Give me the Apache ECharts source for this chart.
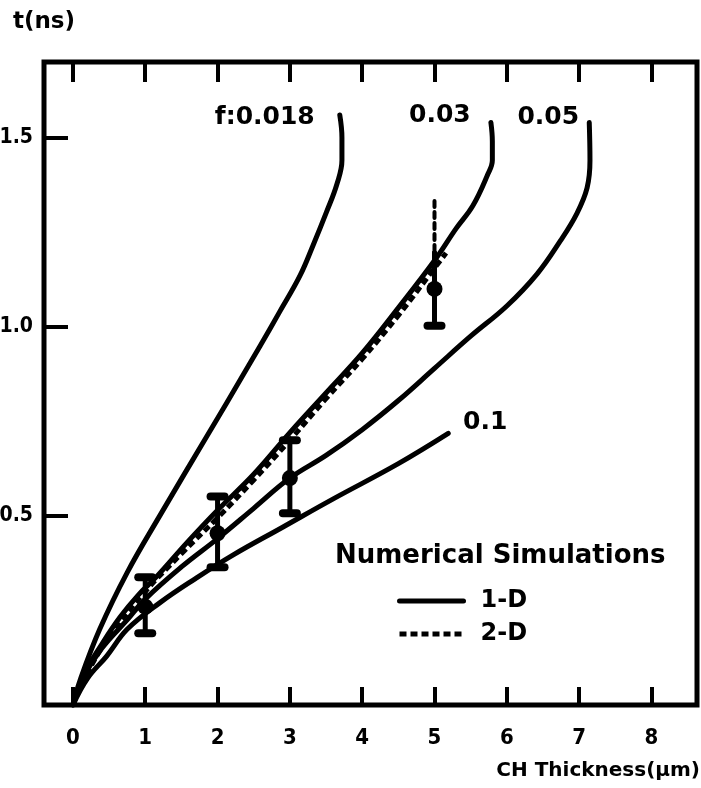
<!DOCTYPE html>
<html>
<head>
<meta charset="utf-8">
<script src="https://cdn.jsdelivr.net/npm/echarts@6/dist/echarts.min.js"></script>
<style>
  html, body { margin: 0; padding: 0; background: #fff; }
  #main { width: 701px; height: 788px; }
</style>
</head>
<body>
<div id="main"></div>
<script>
// curves: [thickness um, t ns]
var curve018 = [[0,0],[0.1,0.066],[0.37,0.2],[0.75,0.35],[1.2,0.5],[1.85,0.71],[2.13,0.80],[2.59,0.95],[2.86,1.04],[3.14,1.135],[3.32,1.215],[3.51,1.305],[3.65,1.377],[3.72,1.44],[3.72,1.5],[3.69,1.56]];
var curve03 = [[0,0],[0.15,0.08],[0.41,0.164],[0.65,0.232],[0.9,0.29],[1.16,0.34],[1.58,0.43],[2,0.515],[2.5,0.61],[3,0.72],[3.5,0.825],[4,0.93],[4.5,1.05],[5,1.175],[5.3,1.26],[5.53,1.32],[5.73,1.40],[5.8,1.44],[5.8,1.49],[5.78,1.54]];
var curve05 = [[0,0],[0.15,0.075],[0.4,0.15],[0.75,0.225],[1,0.28],[1.5,0.365],[2,0.44],[2.5,0.52],[3,0.6],[3.5,0.66],[4,0.728],[4.5,0.805],[5,0.89],[5.5,0.975],[6,1.055],[6.42,1.14],[6.74,1.227],[6.97,1.30],[7.11,1.367],[7.15,1.44],[7.14,1.54]];
var curve10 = [[0,0],[0.2,0.07],[0.47,0.13],[0.75,0.2],[1.2,0.27],[1.7,0.335],[2.2,0.395],[2.9,0.47],[3.6,0.545],[4.5,0.638],[5.19,0.718]];
var curve2D = [[0,0],[0.2,0.085],[0.5,0.18],[1,0.3],[1.5,0.4],[2,0.495],[2.5,0.595],[3,0.70],[3.5,0.81],[4,0.915],[4.5,1.03],[5,1.155],[5.16,1.195]];
var curveNames = ['f:0.018', '0.03', '0.05', '0.1'];

// measurements with error bars
var errX = [1, 2, 3, 5];
var errMean = [0.26, 0.454, 0.60, 1.10];
var errLow = [0.19, 0.364, 0.507, 1.003];
var errHigh = [0.338, 0.551, 0.70, 1.20];
var errDottedTop = [null, null, null, 1.34];

var xTicks = [0, 1, 2, 3, 4, 5, 6, 7, 8];
var yTicks = [0.5, 1.0, 1.5];

var heavy = 'DejaVu Sans';
var narrow = "'Liberation Sans Narrow', 'DejaVu Sans Condensed', sans-serif";

var labelOffsets = [[-75, 3], [-51, -7], [-41, -5], [37, -11]];

var chart = echarts.init(document.getElementById('main'));

var solidSeries = [curve018, curve03, curve05, curve10].map(function (d, i) {
  return {
    type: 'line',
    name: '1-D',
    data: d,
    symbol: 'none',
    smooth: 0.4,
    lineStyle: { color: '#000', width: 5, cap: 'round', join: 'round' },
    itemStyle: { color: '#000' },
    markPoint: {
      symbol: 'circle',
      symbolSize: 0,
      itemStyle: { color: 'transparent' },
      data: [{ coord: d[d.length - 1] }],
      label: {
        show: true,
        formatter: curveNames[i],
        offset: labelOffsets[i],
        color: '#000',
        fontFamily: heavy,
        fontWeight: 'bold',
        fontSize: 25
      }
    }
  };
});

var errData = errX.map(function (x, i) {
  return [x, errLow[i], errHigh[i], errMean[i], errDottedTop[i] == null ? '-' : errDottedTop[i]];
});

chart.setOption({
  animation: false,
  grid: {
    left: 44, right: 4, top: 62, bottom: 83,
    show: true, borderColor: '#000', borderWidth: 5,
    containLabel: false, outerBoundsMode: 'none'
  },
  title: {
    text: 'Numerical Simulations',
    left: 330, top: 538,
    textStyle: { color: '#000', fontFamily: heavy, fontWeight: 'bold', fontSize: 26 }
  },
  legend: {
    data: ['1-D', '2-D'],
    orient: 'vertical',
    left: 397, top: 589, padding: 0,
    itemWidth: 64, itemHeight: 14, itemGap: 9,
    itemStyle: { opacity: 0 },
    lineStyle: { width: 5 },
    textStyle: { color: '#000', fontFamily: heavy, fontWeight: 'bold', fontSize: 24, padding: [0, 0, 0, 12] }
  },
  xAxis: [{
    type: 'value', min: -0.4, max: 8.63,
    name: 'CH Thickness(μm)', nameLocation: 'end', nameGap: 3,
    nameTextStyle: { color: '#000', fontFamily: heavy, fontWeight: 'bold', fontSize: 20, align: 'right', verticalAlign: 'top', padding: [56, 0, 0, 0] },
    axisLine: { show: false, onZero: false },
    splitLine: { show: false },
    axisTick: { inside: true, length: 18, lineStyle: { color: '#000', width: 4 }, customValues: xTicks },
    axisLabel: { customValues: xTicks, margin: 22, color: '#000', fontFamily: narrow, fontWeight: 'bold', fontSize: 22 }
  }, {
    type: 'value', min: -0.4, max: 8.63, position: 'top',
    axisLine: { show: false, onZero: false },
    splitLine: { show: false },
    axisTick: { inside: true, length: 20, lineStyle: { color: '#000', width: 4 }, customValues: xTicks },
    axisLabel: { show: false }
  }],
  yAxis: {
    type: 'value', min: 0, max: 1.7,
    name: 't(ns)', nameLocation: 'end', nameGap: 40,
    nameTextStyle: { color: '#000', fontFamily: heavy, fontWeight: 'bold', fontSize: 23, align: 'center', verticalAlign: 'middle' },
    axisLine: { show: false, onZero: false },
    splitLine: { show: false },
    axisTick: { inside: true, length: 24, lineStyle: { color: '#000', width: 4 }, customValues: yTicks },
    axisLabel: {
      customValues: yTicks, margin: 11, color: '#000', fontFamily: narrow, fontWeight: 'bold', fontSize: 21,
      formatter: function (v) { return v.toFixed(1); }
    }
  },
  series: solidSeries.concat([{
    type: 'line',
    name: '2-D',
    data: curve2D,
    symbol: 'none',
    smooth: 0.4,
    lineStyle: { color: '#000', width: 5, type: [7, 4] },
    itemStyle: { color: '#000' }
  }, {
    type: 'custom',
    name: 'data',
    data: errData,
    encode: { x: 0, y: [1, 2, 3] },
    z: 5,
    renderItem: function (params, api) {
      var x = api.value(0);
      var lo = api.coord([x, api.value(1)]);
      var hi = api.coord([x, api.value(2)]);
      var mid = api.coord([x, api.value(3)]);
      var top = api.value(4);
      var kids = [
        { type: 'line', shape: { x1: lo[0], y1: lo[1], x2: hi[0], y2: hi[1] }, style: { stroke: '#000', lineWidth: 5 } },
        { type: 'rect', shape: { x: lo[0] - 11, y: lo[1] - 4, width: 22, height: 8, r: 4 }, style: { fill: '#000' } },
        { type: 'circle', shape: { cx: mid[0], cy: mid[1], r: 8 }, style: { fill: '#000' } }
      ];
      if (isNaN(top)) {
        kids.push({ type: 'rect', shape: { x: hi[0] - 11, y: hi[1] - 4, width: 22, height: 8, r: 4 }, style: { fill: '#000' } });
      } else {
        var tp = api.coord([x, top]);
        kids.push({ type: 'line', shape: { x1: hi[0], y1: hi[1], x2: tp[0], y2: tp[1] }, style: { stroke: '#000', lineWidth: 4, lineDash: [6, 5], lineCap: 'round' } });
      }
      return { type: 'group', children: kids };
    }
  }])
});
</script>
</body>
</html>
